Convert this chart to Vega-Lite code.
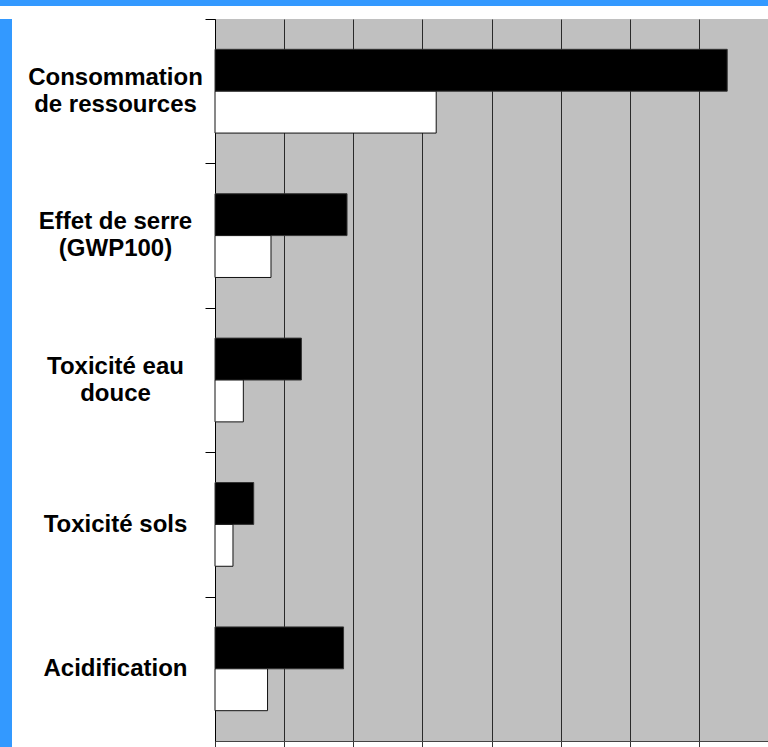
{
  "$schema": "https://vega.github.io/schema/vega-lite/v6.json",
  "background": "#ffffff",
  "padding": 0,
  "spacing": 12,
  "config": {"view": {"stroke": null}, "concat": {"spacing": 0}},
  "vconcat": [
    {
      "width": 768,
      "height": 6,
      "view": {"fill": "#3399ff", "stroke": null},
      "data": {"values": []},
      "mark": "rect"
    },
    {
      "spacing": 0,
      "hconcat": [
        {
          "width": 12,
          "height": 729,
          "view": {"fill": "#3399ff", "stroke": null},
          "data": {"values": []},
          "mark": "rect"
        },
        {
          "width": 553,
          "height": 722,
          "view": {"fill": "#c0c0c0", "stroke": null},
          "data": {
            "values": [
              {"category": "Consommation\nde ressources", "series": "A", "value": 7.41},
              {"category": "Consommation\nde ressources", "series": "B", "value": 3.2},
              {"category": "Effet de serre\n(GWP100)", "series": "A", "value": 1.91},
              {"category": "Effet de serre\n(GWP100)", "series": "B", "value": 0.81},
              {"category": "Toxicité eau\ndouce", "series": "A", "value": 1.25},
              {"category": "Toxicité eau\ndouce", "series": "B", "value": 0.41},
              {"category": "Toxicité sols", "series": "A", "value": 0.56},
              {"category": "Toxicité sols", "series": "B", "value": 0.26},
              {"category": "Acidification", "series": "A", "value": 1.86},
              {"category": "Acidification", "series": "B", "value": 0.76}
            ]
          },
          "mark": {"type": "bar", "strokeWidth": 1},
          "encoding": {
            "y": {
              "field": "category",
              "type": "nominal",
              "sort": null,
              "scale": {"paddingInner": 0.42, "paddingOuter": 0.21},
              "axis": {
                "title": null,
                "tickOffset": -72.2,
                "labelOffset": 72.2,
                "tickSize": 10,
                "tickColor": "#000000",
                "domainColor": "#000000",
                "labelAlign": "center",
                "labelBaseline": {
                  "condition": {"test": "datum.value === 'Toxicité sols' || datum.value === 'Acidification'", "value": "middle"},
                  "value": "line-bottom"
                },
                "labelPadding": 90,
                "labelFont": "Liberation Sans",
                "labelFontSize": 24,
                "labelFontWeight": "bold",
                "labelColor": "#000000",
                "labelLineHeight": 27,
                "labelLimit": 300,
                "labelExpr": "split(datum.label, '\\n')",
                "minExtent": 203,
                "maxExtent": 203,
                "grid": false
              }
            },
            "yOffset": {
              "field": "series",
              "type": "nominal",
              "scale": {"paddingInner": 0, "paddingOuter": 0}
            },
            "x": {
              "field": "value",
              "type": "quantitative",
              "scale": {"domain": [0, 8], "nice": false, "zero": true},
              "axis": {
                "title": null,
                "values": [0, 1, 2, 3, 4, 5, 6, 7, 8],
                "labels": false,
                "tickSize": 6,
                "tickColor": "#333333",
                "domainColor": "#444444",
                "grid": true,
                "gridColor": "#2a2a2a",
                "gridOpacity": 1,
                "gridWidth": 1
              }
            },
            "color": {
              "field": "series",
              "type": "nominal",
              "scale": {"domain": ["A", "B"], "range": ["#000000", "#ffffff"]},
              "legend": null
            },
            "stroke": {
              "field": "series",
              "type": "nominal",
              "scale": {"domain": ["A", "B"], "range": ["#333333", "#111111"]},
              "legend": null
            }
          }
        }
      ]
    }
  ]
}
